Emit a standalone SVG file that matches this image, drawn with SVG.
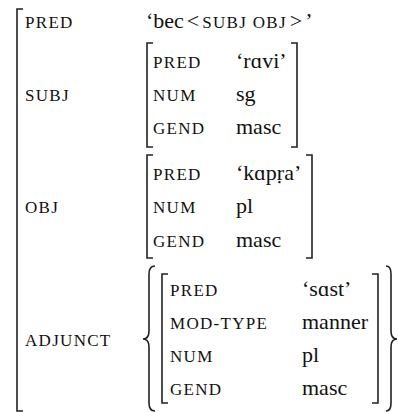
<svg xmlns="http://www.w3.org/2000/svg" width="398" height="412" viewBox="0 0 398 412">
<style>
.a{font-family:"Liberation Serif","Times New Roman",serif;font-size:17px;letter-spacing:1.3px;fill:#111}
.v{font-family:"Liberation Serif","Times New Roman",serif;font-size:22px;fill:#111}
.b{fill:none;stroke:#222;stroke-width:1.6}
</style>
<rect width="398" height="412" fill="#fff"/>
<g id="outer">
<path class="b" d="M23,9 H17 V411 H23"/>
<text class="a" x="25" y="28">PRED</text>
<text class="v" x="146" y="28">‘bec<tspan dx="3">&lt;</tspan><tspan class="a" font-size="17" dx="3">SUBJ OBJ</tspan><tspan dx="3">&gt;</tspan><tspan dx="3">’</tspan></text>
<text class="a" x="25" y="101">SUBJ</text>
<text class="a" x="25" y="213">OBJ</text>
<text class="a" x="25" y="346">ADJUNCT</text>
</g>
<g id="subj">
<path class="b" d="M153,43 H147 V147 H153 M291,43 H297 V147 H291"/>
<text class="a" x="153" y="68">PRED</text><text class="v" x="236" y="68">‘rɑvi’</text>
<text class="a" x="153" y="101">NUM</text><text class="v" x="236" y="101">sg</text>
<text class="a" x="153" y="134">GEND</text><text class="v" x="236" y="134">masc</text>
</g>
<g id="obj">
<path class="b" d="M153,155 H147 V258 H153 M306,155 H312 V258 H306"/>
<text class="a" x="153" y="180">PRED</text><text class="v" x="236" y="180">‘kɑpṛa’</text>
<text class="a" x="153" y="213">NUM</text><text class="v" x="236" y="213">pl</text>
<text class="a" x="153" y="247">GEND</text><text class="v" x="236" y="247">masc</text>
</g>
<g id="adjunct">
<path class="b" d="M155,266 Q149,266 149,274 V331 Q149,339 143,339 Q149,339 149,347 V403 Q149,411 155,411"/>
<path class="b" d="M386,266 Q391,266 391,274 V331 Q391,339 397,339 Q391,339 391,347 V403 Q391,411 386,411"/>
<path class="b" d="M168,274 H162 V403 H168 M372,274 H378 V403 H372"/>
<text class="a" x="170" y="296">PRED</text><text class="v" x="302" y="296">‘sɑst’</text>
<text class="a" x="170" y="329">MOD-TYPE</text><text class="v" x="302" y="329">manner</text>
<text class="a" x="170" y="362">NUM</text><text class="v" x="302" y="362">pl</text>
<text class="a" x="170" y="395">GEND</text><text class="v" x="302" y="395">masc</text>
</g>
</svg>
